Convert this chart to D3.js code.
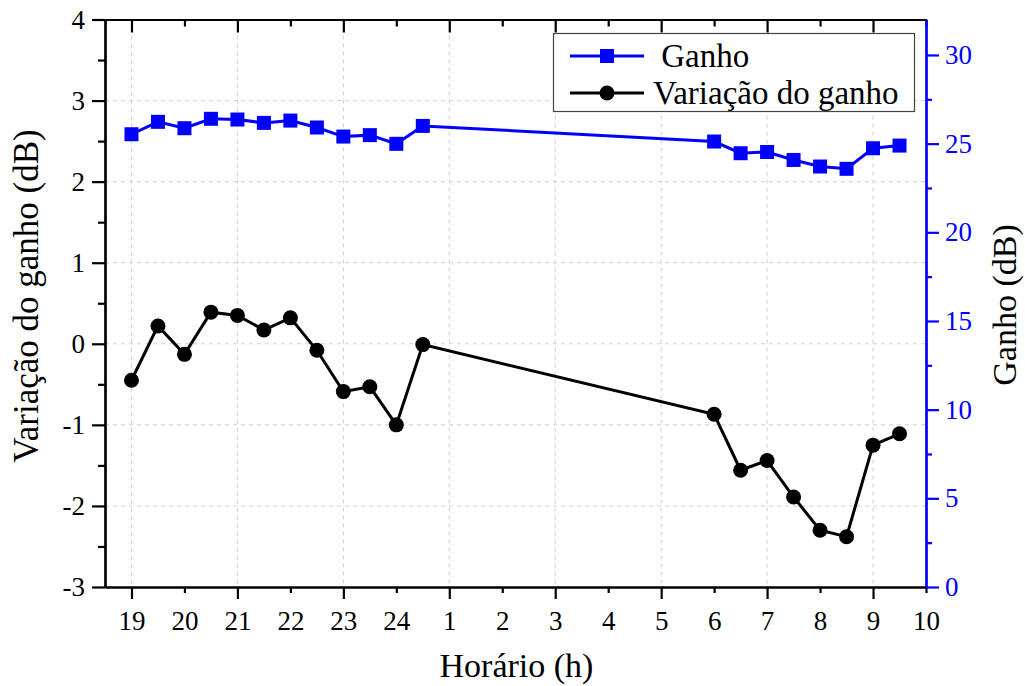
<!DOCTYPE html>
<html>
<head>
<meta charset="utf-8">
<script src="https://cdn.jsdelivr.net/npm/d3@7"></script>
<style>
	body { margin: 0; background: #fff; }
	svg { display: block; font-family: 'Liberation Serif', 'Times New Roman', serif; }
	.grid line { stroke: #cfcfcf; stroke-width: 1; stroke-dasharray: 4, 4; }
	.axis text { font-family: 'Liberation Serif', 'Times New Roman', serif; font-size: 27px; }
	.axis path, .axis line { stroke-width: 2.2; }
</style>
</head>
<body>
<script>
// data (hours after 24 continue on the next day: 30 = 6h)
const hours = [19, 19.5, 20, 20.5, 21, 21.5, 22, 22.5, 23, 23.5, 24, 24.5, 30, 30.5, 31, 31.5, 32, 32.5, 33, 33.5];
const ganho = [25.53, 26.23, 25.87, 26.4, 26.36, 26.17, 26.3, 25.91, 25.4, 25.48, 24.99, 26.0, 25.12, 24.46, 24.53, 24.08, 23.71, 23.58, 24.74, 24.89];
const variacao = [-0.45, 0.22, -0.13, 0.39, 0.35, 0.17, 0.32, -0.08, -0.59, -0.53, -1.0, -0.01, -0.87, -1.56, -1.44, -1.89, -2.3, -2.38, -1.25, -1.11];

const xTicks = [19, 20, 21, 22, 23, 24, 25, 26, 27, 28, 29, 30, 31, 32, 33, 34];
const xTickLabels = ['19', '20', '21', '22', '23', '24', '1', '2', '3', '4', '5', '6', '7', '8', '9', '10'];
const yLeftTicks = [-3, -2, -1, 0, 1, 2, 3, 4];
const yRightTicks = [0, 5, 10, 15, 20, 25, 30];

// svg params
const svgW = 1025;
const svgH = 686;
const pX = [105, 926];
const pY = [19.5, 587];
const blue = '#0000ff';

const x = d3.scaleLinear().domain([18.5, 34]).range(pX);
const yL = d3.scaleLinear().domain([-3, 4]).range([pY[1], pY[0]]);
const yR = d3.scaleLinear().domain([0, 32]).range([pY[1], pY[0]]);

const svg = d3.select('body').append('svg').attr('width', svgW).attr('height', svgH);

/*
	grid
*/
const grid = svg.append('g').attr('class', 'grid');
grid.selectAll('.gx')
	.data(xTicks.filter((t) => t % 2 === 1))
	.enter()
	.append('line')
	.attr('x1', (d) => x(d))
	.attr('x2', (d) => x(d))
	.attr('y1', pY[0])
	.attr('y2', pY[1]);
grid.selectAll('.gy')
	.data(yLeftTicks.filter((t) => t > -3 && t < 4))
	.enter()
	.append('line')
	.attr('x1', pX[0])
	.attr('x2', pX[1])
	.attr('y1', (d) => yL(d))
	.attr('y2', (d) => yL(d));

/*
	axes
*/
const oddX = xTicks.filter((t) => t % 2 === 1);
const evenX = xTicks.filter((t) => t % 2 === 0);
const tickFmt = (d) => xTickLabels[xTicks.indexOf(d)];

// bottom
svg.append('g').attr('class', 'axis').attr('transform', 'translate(0,' + pY[1] + ')')
	.call(d3.axisBottom(x).tickValues(evenX).tickSize(6).tickSizeOuter(0).tickFormat(''));
svg.append('g').attr('class', 'axis').attr('transform', 'translate(0,' + pY[1] + ')')
	.call(d3.axisBottom(x).tickValues(oddX).tickSize(12).tickSizeOuter(0).tickFormat(''));
svg.append('g').attr('class', 'axis').attr('transform', 'translate(0,' + pY[1] + ')')
	.call(d3.axisBottom(x).tickValues(xTicks).tickSize(0).tickPadding(24).tickFormat(tickFmt))
	.call((g) => g.select('.domain').remove());

// top (inner ticks)
svg.append('g').attr('class', 'axis').attr('transform', 'translate(0,' + pY[0] + ')')
	.call(d3.axisBottom(x).tickValues(evenX).tickSize(7).tickSizeOuter(0).tickFormat(''));
svg.append('g').attr('class', 'axis').attr('transform', 'translate(0,' + pY[0] + ')')
	.call(d3.axisBottom(x).tickValues(oddX).tickSize(13).tickSizeOuter(0).tickFormat(''));

// left
svg.append('g').attr('class', 'axis').attr('transform', 'translate(' + pX[0] + ',0)')
	.call(d3.axisLeft(yL).tickValues(yLeftTicks.slice(0, -1).map((t) => t + 0.5)).tickSize(7).tickSizeOuter(0).tickFormat(''));
svg.append('g').attr('class', 'axis').attr('transform', 'translate(' + pX[0] + ',0)')
	.call(d3.axisLeft(yL).tickValues(yLeftTicks).tickSize(13).tickSizeOuter(0).tickPadding(7).tickFormat((d) => String(d)));

// right (blue)
const right = svg.append('g').attr('class', 'axis').attr('transform', 'translate(' + pX[1] + ',0)');
right.append('g')
	.call(d3.axisRight(yR).tickValues(yRightTicks.slice(0, -1).map((t) => t + 2.5)).tickSize(6).tickSizeOuter(0).tickFormat(''));
right.append('g')
	.call(d3.axisRight(yR).tickValues(yRightTicks).tickSize(13).tickSizeOuter(0).tickPadding(6));
right.selectAll('path, line').attr('stroke', blue);
right.selectAll('text').attr('fill', blue);

/*
	series
*/
const line = (ys, yScale) => d3.line().x((d, i) => x(hours[i])).y((d) => yScale(d))(ys);

svg.append('path')
	.attr('d', line(ganho, yR))
	.attr('fill', 'none')
	.attr('stroke', blue)
	.attr('stroke-width', 3);
svg.selectAll('.sq')
	.data(ganho)
	.enter()
	.append('rect')
	.attr('x', (d, i) => x(hours[i]) - 7)
	.attr('y', (d) => yR(d) - 7)
	.attr('width', 14)
	.attr('height', 14)
	.attr('fill', blue);

svg.append('path')
	.attr('d', line(variacao, yL))
	.attr('fill', 'none')
	.attr('stroke', '#000')
	.attr('stroke-width', 3);
svg.selectAll('.dot')
	.data(variacao)
	.enter()
	.append('circle')
	.attr('cx', (d, i) => x(hours[i]))
	.attr('cy', (d) => yL(d))
	.attr('r', 7.5)
	.attr('fill', '#000');

/*
	titles
*/
svg.append('text')
	.attr('x', (pX[0] + pX[1]) / 2 + 1)
	.attr('y', 677)
	.attr('text-anchor', 'middle')
	.attr('font-size', 34)
	.text('Horário (h)');
svg.append('text')
	.attr('transform', 'translate(38,296) rotate(-90)')
	.attr('text-anchor', 'middle')
	.attr('font-size', 35)
	.text('Variação do ganho (dB)');
svg.append('text')
	.attr('transform', 'translate(1016,305) rotate(-90)')
	.attr('text-anchor', 'middle')
	.attr('font-size', 34)
	.text('Ganho (dB)');

/*
	legend
*/
const legend = svg.append('g');
legend.append('rect')
	.attr('x', 553.5).attr('y', 33.5).attr('width', 361).attr('height', 78)
	.attr('fill', '#fff').attr('stroke', '#444').attr('stroke-width', 1.2);
const entries = [
	{ label: ' Ganho', color: blue, shape: 'square', y: 56, tx: 653 },
	{ label: 'Variação do ganho', color: '#000', shape: 'circle', y: 93, tx: 653 }
];
entries.forEach((e) => {
	legend.append('line')
		.attr('x1', 570).attr('x2', 644).attr('y1', e.y).attr('y2', e.y)
		.attr('stroke', e.color).attr('stroke-width', 3);
	if (e.shape === 'square') {
		legend.append('rect').attr('x', 600).attr('y', e.y - 7).attr('width', 14).attr('height', 14).attr('fill', e.color);
	} else {
		legend.append('circle').attr('cx', 607).attr('cy', e.y).attr('r', 7.5).attr('fill', e.color);
	}
	legend.append('text')
		.attr('x', e.tx)
		.attr('y', e.y + 11)
		.attr('font-size', 33)
		.style('white-space', 'pre')
		.text(e.label);
});
</script>
</body>
</html>
